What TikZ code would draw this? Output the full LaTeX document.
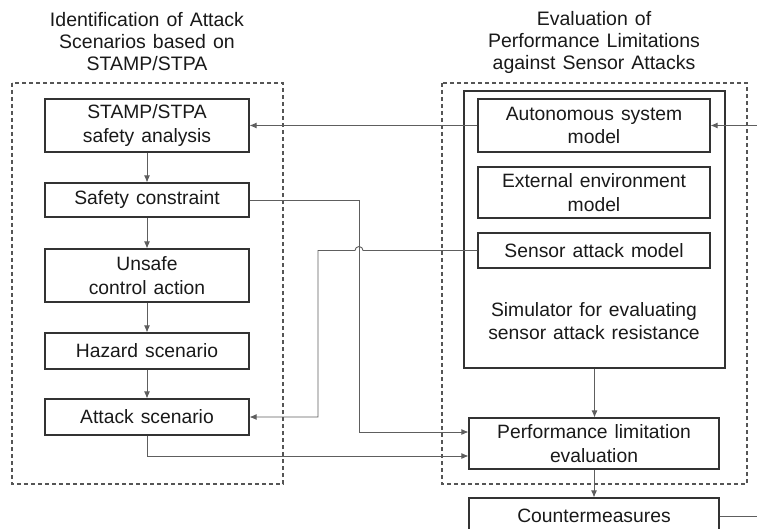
\documentclass[tikz,border=0pt]{standalone}
\usepackage{fontspec}
\setmainfont[WordSpace=1.3]{Liberation Sans}
\usetikzlibrary{arrows.meta}
\definecolor{boxcol}{HTML}{333333}
\definecolor{linecol}{HTML}{5E5E5E}
\definecolor{dashcol}{HTML}{555555}
\begin{document}
\begin{tikzpicture}[x=1pt,y=-1pt,
  every node/.style={font=\fontsize{19.3}{23.5}\selectfont, text=black!90},
  box/.style={draw=boxcol, line width=1.1pt, align=center, inner sep=0pt},
  title/.style={align=center, font=\fontsize{19.5}{22}\selectfont},
  conn/.style={draw=linecol, line width=0.9pt},
  arr/.style={conn, -{Latex[length=7pt,width=6pt]}},
  dashbox/.style={draw=dashcol, line width=1.1pt, dash pattern=on 4pt off 3pt}
]
\clip (0,0) rectangle (757,529);

% section titles
\node[title] (ltitle) at (147,42) {Identification of Attack\\Scenarios based on\\STAMP/STPA};
\node[title] (rtitle) at (594,42) {Evaluation of\\Performance Limitations\\against Sensor Attacks};

% dashed frames of the two parts
\draw[dashbox] (12,83) rectangle (283,484);
\draw[dashbox] (442,83) rectangle (747,484);

% left column: STAMP/STPA chain
\node[box, minimum width=204, minimum height=53] (stamp)  at (147,125.5) {STAMP/STPA\\safety analysis};
\node[box, minimum width=204, minimum height=34] (safety) at (147,200)   {Safety constraint};
\node[box, minimum width=204, minimum height=53] (unsafe) at (147,275.5) {Unsafe\\control action};
\node[box, minimum width=204, minimum height=36] (hazard) at (147,351)   {Hazard scenario};
\node[box, minimum width=204, minimum height=36] (attack) at (147,417)   {Attack scenario};

% right column: simulator and its models
\node[box, minimum width=261, minimum height=277] (sim) at (594.5,229.5) {};
\node[box, minimum width=232, minimum height=53] (auto)   at (594,125.5) {Autonomous system\\model};
\node[box, minimum width=232, minimum height=51] (extenv) at (594,192.5) {External environment\\model};
\node[box, minimum width=232, minimum height=35] (sensor) at (594,250.5) {Sensor attack model};
\node[align=center] (simtext) at (594,321) {Simulator for evaluating\\sensor attack resistance};

\node[box, minimum width=250, minimum height=51] (perf)    at (594,443.5) {Performance limitation\\evaluation};
\node[box, minimum width=250, minimum height=36] (counter) at (594,516)   {Countermeasures};

\coordinate (inR)  at (757,125.5);
\coordinate (outR) at (757,515);

% connectors
\draw[arr] (stamp) -- (safety);
\draw[arr] (safety) -- (unsafe);
\draw[arr] (unsafe) -- (hazard);
\draw[arr] (hazard) -- (attack);

\draw[arr] (inR) -- (auto.east);
\draw[arr] (auto.west) -- (stamp.east);

\draw[arr] (safety.east) -| (359,432) -- ([yshift=11.5pt]perf.west);
\draw[arr] (sensor.west) -- (363,250.5) arc[start angle=0, end angle=180, radius=4pt]
  -- (318,250.5) |- (attack.east);
\draw[arr] (attack.south) |- ([yshift=-12.5pt]perf.west);

\draw[arr] (sim.south) -- (sim.south |- perf.north);
\draw[arr] (perf) -- (counter);
\draw[conn] (counter.east) -- (outR |- counter.east);
\end{tikzpicture}
\end{document}
